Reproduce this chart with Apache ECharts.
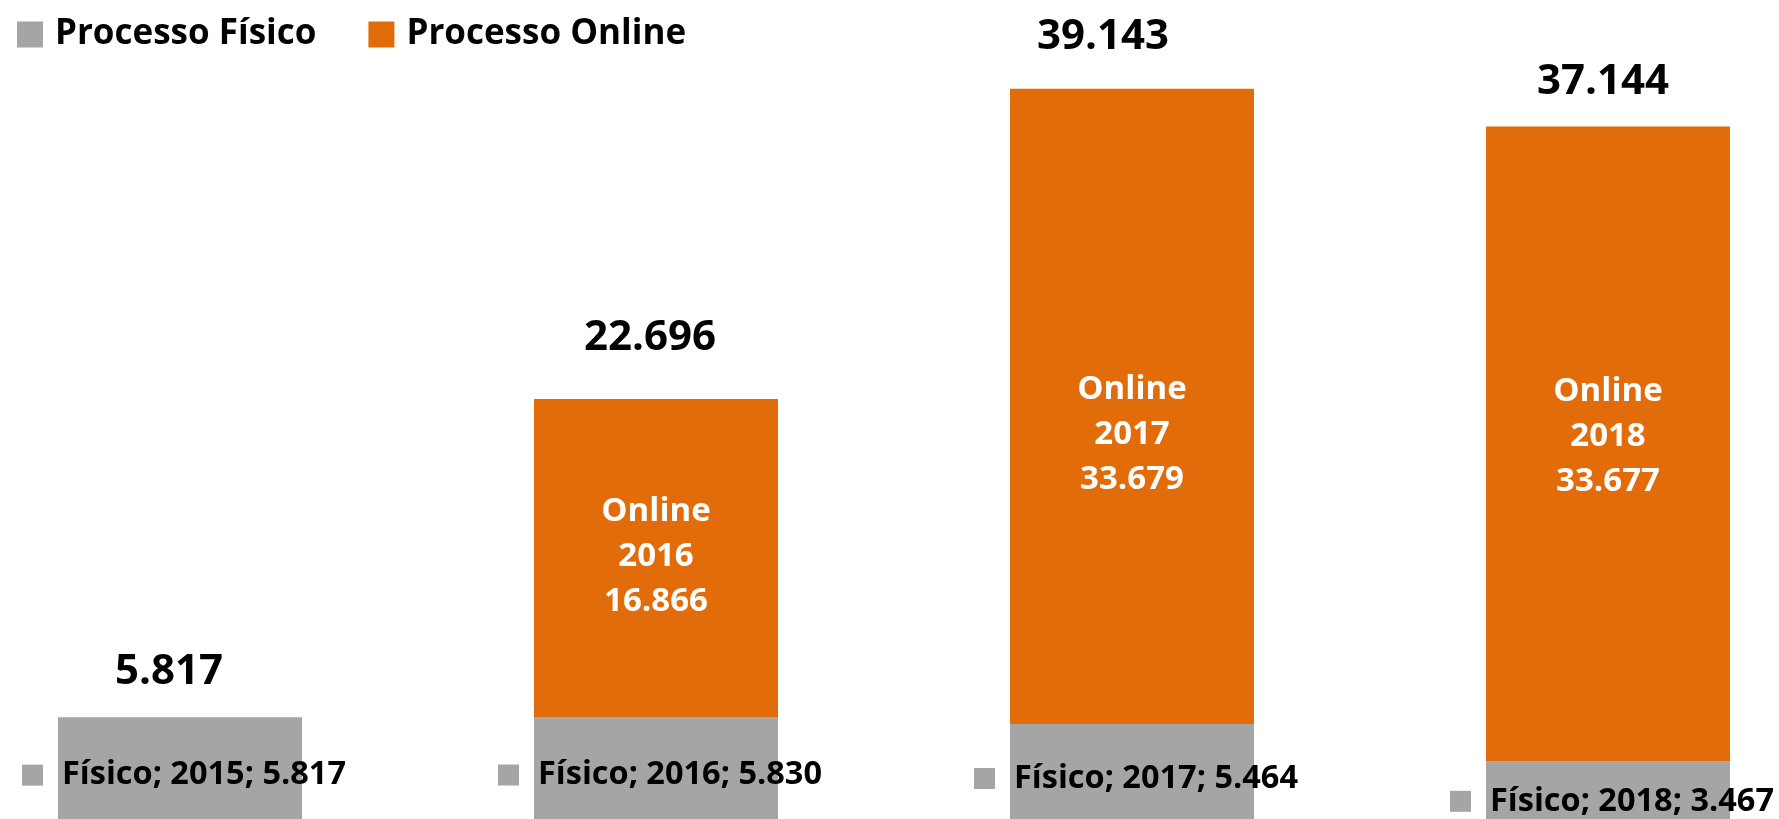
<!DOCTYPE html>
<html>
<head>
<meta charset="utf-8">
<script src="https://cdn.jsdelivr.net/npm/echarts@6/dist/echarts.min.js"></script>
<style>
  html, body { margin: 0; padding: 0; background: #fff; }
  #chart { width: 1779px; height: 819px; }
</style>
</head>
<body>
<div id="chart"></div>
<script>
// data
const years = ['2015', '2016', '2017', '2018']
const fisico = [5817, 5830, 5464, 3467]
const online = [0, 16866, 33679, 33677]
const totals = fisico.map((v, i) => v + online[i])

// small per-bar label nudges (px), to follow the hand-placed labels
const totalGap = [23, 39, 30, 23]
const totalShiftX = [-11, -6, -29, -5]
const onlineShift = [2, -1, 28, -7]
const fisicoShift = [3, 3, 3, 7]

const GRAY = '#A5A5A5'
const ORANGE = '#E36C0A'
const FONT = 'Open Sans'

const fmt = n => String(n).replace(/\B(?=(\d{3})+(?!\d))/g, '.')

const chart = echarts.init(document.getElementById('chart'))

chart.setOption({
    animation: false,
    textStyle: { fontFamily: FONT },
    legend: {
        data: ['Processo Físico', 'Processo Online'],
        left: 12,
        top: 12,
        icon: 'rect',
        itemWidth: 26,
        itemHeight: 26,
        itemGap: 52,
        textStyle: {
            fontFamily: FONT,
            fontWeight: 'bold',
            fontSize: 35,
            color: '#000',
            padding: [0, 0, 0, 7]
        }
    },
    // the baseline sits a few px below the picture, so the axis starts above 0
    grid: { left: 180, right: 171, top: 0, bottom: 0 },
    xAxis: {
        type: 'category',
        data: years,
        boundaryGap: false,
        show: false
    },
    yAxis: {
        type: 'value',
        min: 424,
        max: 43856,
        show: false
    },
    series: [{
        name: 'Processo Físico',
        type: 'bar',
        stack: 'p',
        barWidth: 244,
        clip: false,
        itemStyle: { color: GRAY },
        data: fisico.map((v, i) => ({
            value: v,
            label: { offset: [4, fisicoShift[i]] }
        })),
        label: {
            show: true,
            position: 'inside',
            formatter: p => '{m|}{t|Físico; ' + years[p.dataIndex] + '; ' + fmt(p.value) + '}',
            rich: {
                m: { width: 21, height: 21, backgroundColor: GRAY },
                t: {
                    fontFamily: FONT,
                    fontWeight: 'bold',
                    fontSize: 32.5,
                    color: '#000',
                    padding: [0, 0, 0, 19]
                }
            }
        }
    }, {
        name: 'Processo Online',
        type: 'bar',
        stack: 'p',
        barWidth: 244,
        clip: false,
        itemStyle: { color: ORANGE },
        data: online.map((v, i) => ({
            value: v,
            label: { offset: [0, onlineShift[i]] }
        })),
        label: {
            show: true,
            position: 'inside',
            color: '#fff',
            fontFamily: FONT,
            fontWeight: 'bold',
            fontSize: 33,
            lineHeight: 45,
            formatter: p => p.value ? 'Online\n' + years[p.dataIndex] + '\n' + fmt(p.value) : ''
        }
    }, {
        name: 'Total',
        type: 'bar',
        stack: 'p',
        barWidth: 244,
        clip: false,
        itemStyle: { color: 'transparent' },
        data: totals.map((v, i) => ({
            value: 0,
            label: { distance: totalGap[i], offset: [totalShiftX[i], 0] }
        })),
        label: {
            show: true,
            position: 'top',
            color: '#000',
            fontFamily: FONT,
            fontWeight: 'bold',
            fontSize: 42,
            lineHeight: 44,
            formatter: p => fmt(totals[p.dataIndex])
        }
    }]
})
</script>
</body>
</html>
